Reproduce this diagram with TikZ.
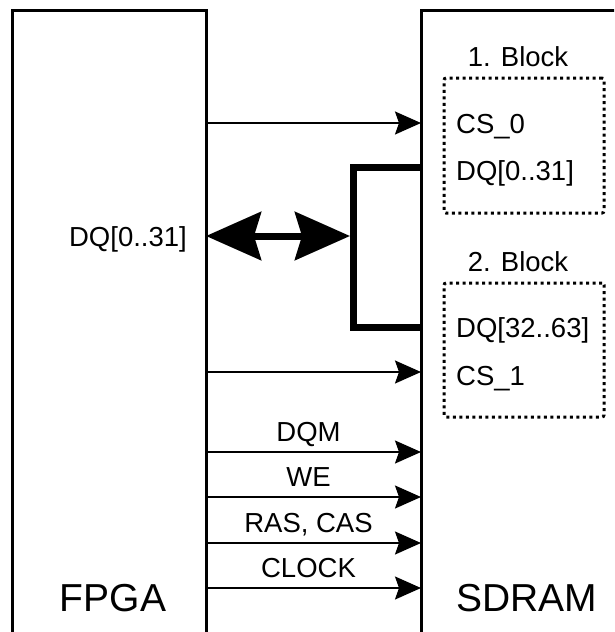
\documentclass[tikz,border=0pt]{standalone}
\usepackage{fontspec}
\setmainfont{Liberation Sans}
\usetikzlibrary{arrows.meta,positioning}
\tikzset{
  chip/.style={draw,line width=3pt,outer sep=0pt,inner sep=0pt,anchor=north west,minimum height=700pt},
  blk/.style={draw,line width=3pt,dash pattern=on 3pt off 3.5pt,rounded corners=2pt,outer sep=0pt,inner sep=0pt,anchor=north west,minimum width=160pt},
  lbl/.style={inner sep=1pt,font=\fontsize{27.5}{32}\selectfont},
  big/.style={inner sep=1pt,font=\fontsize{39}{46}\selectfont},
  sig/.style={line width=1.8pt,-{Stealth[length=26pt,width=23pt,inset=4pt]}},
  bus/.style={line width=7pt},
  bushead/.tip={Stealth[length=55pt,width=48pt,inset=7pt]},
}
\begin{document}
\begin{tikzpicture}[x=1pt,y=-1pt]
\useasboundingbox (0,0) rectangle (614,632);
\clip (0,0) rectangle (614,632);
% chips
\node[chip,minimum width=194pt] (fpga) at (12,10) {};
\node[chip,minimum width=260pt] (sdram) at (421,10) {};
\node[big,anchor=base] (fpgalbl) at (113,611) {FPGA};
\node[big,anchor=base] (sdramlbl) at (527,611) {SDRAM};
% memory blocks
\node[blk,minimum height=135pt] (blka) at (444,78) {};
\node[blk,minimum height=134pt] (blkb) at (444,283) {};
\node[lbl,anchor=base] (blkalbl) at ([xshift=-6pt]blka.north |- 0,66) {1. Block};
\node[lbl,anchor=base] (blkblbl) at ([xshift=-6pt]blkb.north |- 0,271) {2. Block};
\node[lbl,anchor=base west] (cs0) at (455,133) {CS\_0};
\node[lbl,anchor=base west] (dqa) at (455,180) {DQ[0..31]};
\node[lbl,anchor=base west] (dqb) at (455,337) {DQ[32..63]};
\node[lbl,anchor=base west] (cs1) at (455,385) {CS\_1};
% data bus
\coordinate (bt) at (353,167);
\coordinate (bb) at (353,327);
\coordinate (bm) at (353,236);
\draw[bus] (sdram.west |- bt) -- (bt) -- (bb) -- (sdram.west |- bb);
\draw[bus,bushead-bushead,shorten >=3pt] (fpga.east |- bm) -- (bm);
\node[lbl,anchor=base east] (dqf) at (188,246) {DQ[0..31]};
% chip selects
\draw[sig] (fpga.east |- 0,123) -- (sdram.west |- 0,123);
\draw[sig] (fpga.east |- 0,372) -- (sdram.west |- 0,372);
% control signals
\foreach \y/\t in {452/DQM,497/WE,543/{RAS, CAS},588/CLOCK}
  \draw[sig] (fpga.east |- 0,\y) -- node[lbl,anchor=base,xshift=-5pt,yshift=10.5pt] {\t} (sdram.west |- 0,\y);
\end{tikzpicture}
\end{document}
